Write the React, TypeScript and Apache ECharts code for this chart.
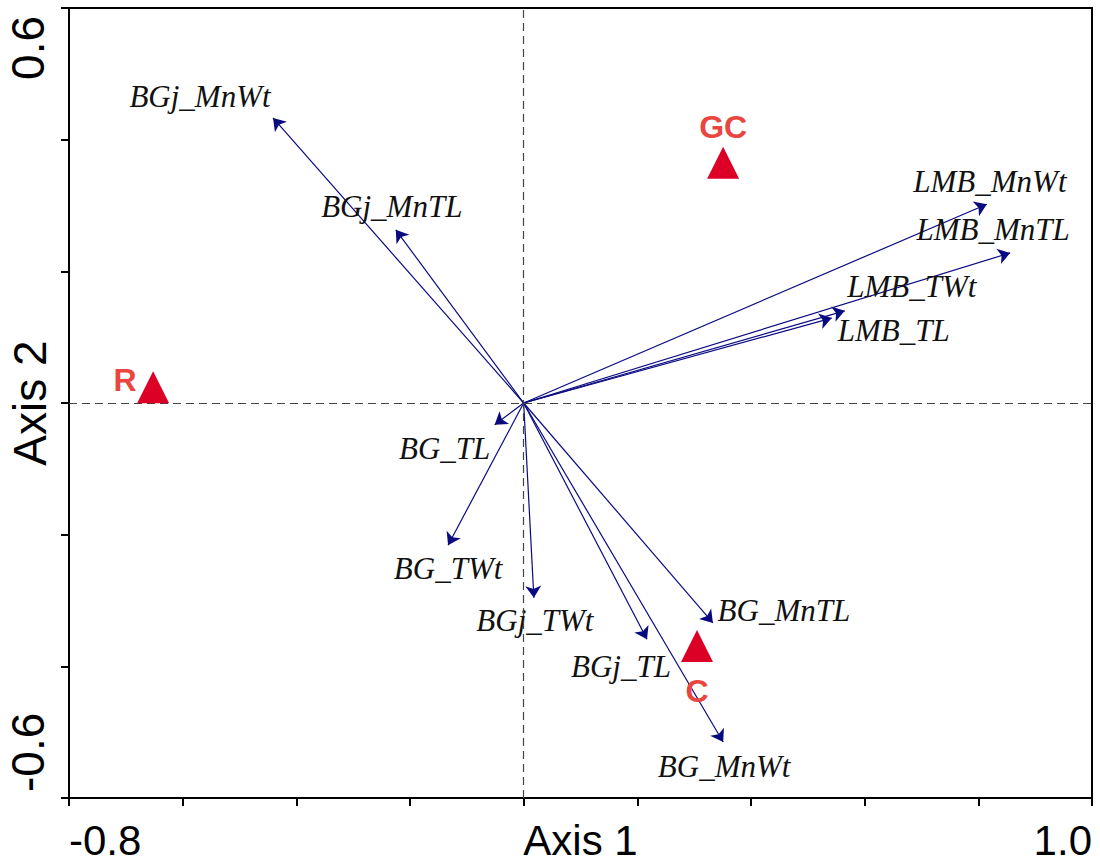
import React, { useEffect, useRef } from "react";
import * as echarts from "echarts";

// Arrow (variable) names and end coordinates (Axis 1, Axis 2)
const varNames = [
  "BGj_MnWt", "BGj_MnTL", "LMB_MnWt", "LMB_MnTL", "LMB_TWt", "LMB_TL",
  "BG_TL", "BG_TWt", "BGj_TWt", "BGj_TL", "BG_MnTL", "BG_MnWt",
];
const varAxis1 = [-0.441, -0.225, 0.815, 0.856, 0.565, 0.542, -0.051, -0.133, 0.018, 0.217, 0.333, 0.351];
const varAxis2 = [0.433, 0.263, 0.302, 0.228, 0.140, 0.129, -0.033, -0.216, -0.296, -0.359, -0.334, -0.515];

// Site (triangle) names and coordinates
const siteNames = ["GC", "R", "C"];
const siteAxis1 = [0.351, -0.652, 0.305];
const siteAxis2 = [0.365, 0.024, -0.369];

// Axis ranges and tick labels shown
const xMin = -0.8, xMax = 1.0, xStep = 0.2;
const yMin = -0.6, yMax = 0.6, yStep = 0.2;
const xTickLabels = ["-0.8", "1.0"];
const yTickLabels = ["-0.6", "0.6"];

// label offsets (px) relative to arrow tips — layout only
const varLabelOffset: Record<string, [number, number]> = {
  BGj_MnWt: [-73, -21],
  BGj_MnTL: [-4, -23],
  LMB_MnWt: [3, -23],
  LMB_MnTL: [-17, -23],
  LMB_TWt: [67, -24],
  LMB_TL: [62, 12],
  BG_TL: [-50, 24],
  BG_TWt: [0, 23],
  BGj_TWt: [1, 23],
  BGj_TL: [-26, 27],
  BG_MnTL: [71, -12],
  BG_MnWt: [1, 24],
};
const siteLabelOffset: Record<string, [number, number]> = {
  GC: [0, -36],
  R: [-28, -7],
  C: [0, 45],
};

export default function App() {
  const ref = useRef<HTMLDivElement>(null);
  useEffect(() => {
    if (!ref.current) return;
    const chart = echarts.init(ref.current, null, { renderer: "svg" });
    const near = (a: number, b: number) => Math.abs(a - b) < 1e-6;
    const arrowData = varNames.map((n, i) => ({
      name: n,
      coords: [[0, 0], [varAxis1[i], varAxis2[i]]],
    }));
    const varLabelData = varNames.map((n, i) => ({
      name: n,
      value: [varAxis1[i], varAxis2[i]],
      label: { offset: varLabelOffset[n] },
    }));
    const siteData = siteNames.map((n, i) => ({
      name: n,
      value: [siteAxis1[i], siteAxis2[i]],
      label: { offset: siteLabelOffset[n] },
    }));
    chart.setOption({
      animation: false,
      backgroundColor: "#fff",
      grid: {
        left: 69, right: 8, top: 8, bottom: 67,
        containLabel: false,
        outerBoundsMode: "none",
        show: true, borderColor: "#000", borderWidth: 2,
      },
      xAxis: {
        type: "value", min: xMin, max: xMax, interval: xStep,
        splitLine: { show: false },
        axisLine: { onZero: false, lineStyle: { color: "#000", width: 2 } },
        axisTick: { show: true, length: 8, lineStyle: { color: "#000", width: 2 } },
        axisLabel: {
          margin: 21,
          fontFamily: "Liberation Sans", fontSize: 42, color: "#000",
          alignMinLabel: "left", alignMaxLabel: "right",
          formatter: (v: number) =>
            near(v, xMin) ? xTickLabels[0] : near(v, xMax) ? xTickLabels[1] : "",
        },
        name: "Axis 1", nameLocation: "middle", nameGap: 21,
        nameMoveOverlap: false,
        nameTextStyle: { fontFamily: "Liberation Sans", fontSize: 42, color: "#000" },
      },
      yAxis: {
        type: "value", min: yMin, max: yMax, interval: yStep,
        splitLine: { show: false },
        axisLine: { onZero: false, lineStyle: { color: "#000", width: 2 } },
        axisTick: { show: true, length: 8, lineStyle: { color: "#000", width: 2 } },
        axisLabel: {
          rotate: 90, margin: 18,
          padding: [0, 8, 0, 6],
          fontFamily: "Liberation Sans", fontSize: 46, color: "#000",
          alignMinLabel: "left", alignMaxLabel: "right",
          formatter: (v: number) =>
            near(v, yMin) ? yTickLabels[0] : near(v, yMax) ? yTickLabels[1] : "",
        },
        name: "Axis 2", nameLocation: "middle", nameGap: 16, nameRotate: 90,
        nameMoveOverlap: false,
        nameTextStyle: { fontFamily: "Liberation Sans", fontSize: 46, color: "#000" },
      },
      series: [
        {
          type: "lines",
          coordinateSystem: "cartesian2d",
          symbol: ["none", "arrow"],
          symbolSize: [9, 12],
          lineStyle: { color: "#0a0a80", width: 1.2, opacity: 1 },
          data: arrowData,
          z: 3,
          markLine: {
            silent: true,
            symbol: "none",
            label: { show: false },
            lineStyle: { color: "#444", width: 1.2, type: [8, 5] },
            data: [{ xAxis: 0 }, { yAxis: 0 }],
          },
        },
        {
          type: "scatter",
          symbol: "circle",
          symbolSize: 1,
          itemStyle: { opacity: 0 },
          data: varLabelData,
          z: 4,
          label: {
            show: true, position: "inside",
            formatter: "{b}",
            fontFamily: "Liberation Serif", fontStyle: "italic",
            fontSize: 31, color: "#111", opacity: 1,
          },
        },
        {
          type: "scatter",
          symbol: "triangle",
          symbolSize: 32,
          itemStyle: { color: "#dc0026", opacity: 1 },
          data: siteData,
          z: 5,
          label: {
            show: true, position: "inside",
            formatter: "{b}",
            fontFamily: "Liberation Sans", fontWeight: "bold",
            fontSize: 32, color: "#e8463f", opacity: 1,
          },
        },
      ],
    });
    return () => chart.dispose();
  }, []);
  return (
    <div
      ref={ref}
      style={{ position: "fixed", left: 0, top: 0, width: 1100, height: 865 }}
    />
  );
}
